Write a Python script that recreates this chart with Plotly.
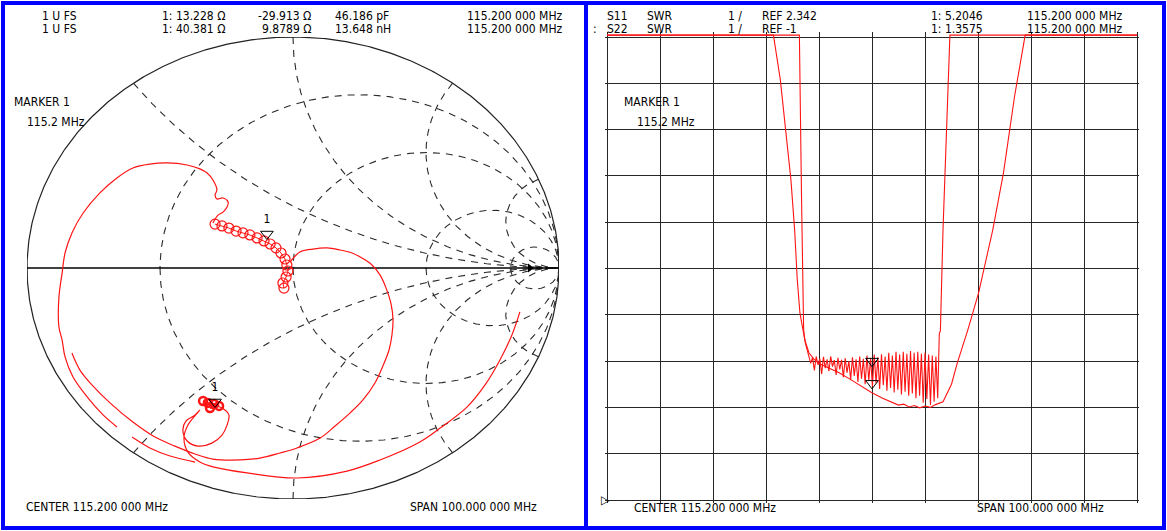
import numpy as np
import plotly.graph_objects as go

W, H = 1167, 531

# ---------------- Smith chart data (reflection coefficient, re / im) ----------------
s11_arc1_re = [-0.301, -0.282, -0.263, -0.248, -0.244, -0.263, -0.286, -0.293, -0.286, -0.301,
               -0.323, -0.350, -0.398, -0.474, -0.538, -0.602, -0.662, -0.726, -0.789, -0.831,
               -0.857, -0.868, -0.880, -0.880, -0.868, -0.857, -0.827, -0.774, -0.714, -0.662]
s11_arc1_im = [0.195, 0.229, 0.242, 0.264, 0.286, 0.303, 0.299, 0.316, 0.338, 0.381,
               0.411, 0.429, 0.446, 0.455, 0.450, 0.433, 0.390, 0.325, 0.238, 0.152,
               0.065, -0.022, -0.126, -0.255, -0.312, -0.385, -0.472, -0.558, -0.636, -0.688]

s11_arc2_re = [-0.011, 0.026, 0.075, 0.128, 0.177, 0.222, 0.259, 0.297, 0.327, 0.350,
               0.368, 0.376, 0.372, 0.361, 0.338, 0.308, 0.263, 0.214, 0.158, 0.102,
               0.015, -0.049, -0.124, -0.199, -0.301, -0.368, -0.444, -0.519, -0.602, -0.688,
               -0.756, -0.801, -0.831]
s11_arc2_im = [0.026, 0.069, 0.082, 0.087, 0.078, 0.065, 0.043, 0.013, -0.030, -0.087,
               -0.152, -0.225, -0.290, -0.355, -0.424, -0.498, -0.571, -0.628, -0.684, -0.736,
               -0.779, -0.801, -0.823, -0.831, -0.827, -0.805, -0.771, -0.732, -0.667, -0.584,
               -0.506, -0.442, -0.368]

s11_curl_re = [-0.293, -0.267, -0.241, -0.214, -0.188, -0.162, -0.135, -0.109, -0.086, -0.064,
               -0.045, -0.030, -0.023, -0.019, -0.026, -0.038, -0.034]
s11_curl_im = [0.190, 0.182, 0.173, 0.160, 0.152, 0.143, 0.130, 0.117, 0.104, 0.087,
               0.065, 0.039, 0.013, -0.013, -0.039, -0.065, -0.087]

s22_arc_re = [-0.305, -0.267, -0.241, -0.248, -0.267, -0.305, -0.357, -0.398, -0.414, -0.402,
              -0.368, -0.350, -0.395, -0.410, -0.395, -0.350, -0.301, -0.173, 0.015, 0.203,
              0.327, 0.477, 0.553, 0.654, 0.722, 0.778, 0.823, 0.853]
s22_arc_im = [-0.593, -0.606, -0.636, -0.680, -0.723, -0.758, -0.771, -0.749, -0.701, -0.662,
              -0.636, -0.615, -0.680, -0.736, -0.797, -0.840, -0.861, -0.887, -0.909, -0.879,
              -0.831, -0.753, -0.693, -0.602, -0.506, -0.398, -0.290, -0.190]
s22_tail_re = [-0.605, -0.538, -0.462, -0.368]
s22_tail_im = [-0.732, -0.779, -0.814, -0.840]
s22_curl_re = [-0.338, -0.320, -0.297, -0.278, -0.312]
s22_curl_im = [-0.576, -0.584, -0.589, -0.597, -0.606]

smith_marker_re = [-0.098, -0.293]
smith_marker_im = [0.147, -0.580]

# Smith grid values
grid_r = [1 / 3, 1, 3, 10]
grid_x = [0.5, 1, 2, 5]

# ---------------- SWR data (frequency MHz, display divisions) ----------------
s11_f = [65.2, 96.6, 97.9, 98.9, 99.9, 100.6, 101.1, 101.6, 102.5, 103.3, 104.2, 105.2, 107.2,
         109.0, 111.2, 113.2, 115.1, 117.2, 119.2, 120.2, 121.2, 122.2, 123.2, 124.2, 125.2,
         126.2, 127.2, 128.6, 130.2, 131.3, 133.3, 135.3, 138.0, 140.0, 142.1, 144.1, 165.2]
s11_div = [10.04, 10.04, 9.08, 8.0, 6.92, 5.84, 4.76, 4.04, 3.47, 3.18, 3.05, 2.95, 2.85,
           2.75, 2.60, 2.45, 2.32, 2.20, 2.10, 2.05, 2.07, 2.01, 2.04, 1.99, 2.03,
           2.00, 2.06, 2.12, 2.50, 2.96, 3.68, 4.47, 5.84, 7.06, 8.72, 10.04, 10.04]

s22_left_f = [65.2, 101.5, 101.9, 102.3, 102.6, 103.0]
s22_left_div = [10.04, 10.04, 6.56, 3.68, 3.40, 3.20]
s22_band_start, s22_band_stop = 103.3, 127.6
s22_band_div = [3.12, 2.95, 3.08, 2.80, 3.10, 2.92, 3.05, 2.72, 3.09, 2.85, 3.04, 2.78,
                3.10, 2.88, 3.02, 2.70, 3.07, 2.82, 3.03, 2.65, 3.06, 2.75, 3.00, 2.60,
                3.08, 2.68, 3.04, 2.55, 3.10, 2.62, 3.05, 2.50, 3.12, 2.58, 3.06, 2.45,
                3.14, 2.52, 3.08, 2.40, 3.15, 2.48, 3.10, 2.36, 3.18, 2.42, 3.12, 2.32,
                3.20, 2.38, 3.14, 2.28, 3.20, 2.34, 3.16, 2.25, 3.22, 2.30, 3.18, 2.20,
                3.20, 2.25, 3.16, 2.10, 3.18, 2.18, 3.14, 2.05, 3.12, 2.12, 3.10, 2.20]
s22_right_f = [127.9, 128.1, 128.6, 129.3, 129.9, 165.2]
s22_right_div = [3.60, 3.65, 5.84, 8.0, 10.04, 10.04]

marker_f = [115.2, 115.2]
marker_div = [3.0, 2.52]

# ---------------- layout geometry (pixels) ----------------
SM_L, SM_R, SM_T, SM_B = 27, 559, 37, 499
GR_L, GR_R, GR_T, GR_B = 607, 1137, 37, 500
F0, F1 = 65.2, 165.2
XPAD, YPAD_B, YPAD_T = 0.3, 0.06, 0.1

RED = "#ff1414"
DASH = "7px,6px"
FONT = "Liberation Sans Narrow, Arial Narrow, DejaVu Sans Condensed, Liberation Sans, sans-serif"


def pxx(x):
    return x / W


def pxy(y):
    return 1 - y / H


fig = go.Figure()

# ----- Smith chart grid -----
th = np.linspace(0, 2 * np.pi, 721)
for r in grid_r:
    c, rad = r / (1 + r), 1 / (1 + r)
    fig.add_trace(go.Scatter(x=c + rad * np.cos(th + np.pi), y=rad * np.sin(th + np.pi),
                             mode="lines", line=dict(color="#2a2a2a", width=1.1, dash=DASH),
                             xaxis="x", yaxis="y", hoverinfo="skip"))
t = np.concatenate([np.linspace(0, 2, 300), np.geomspace(2.01, 3000, 300)])
for xv in grid_x:
    for s in (1, -1):
        z = t + 1j * s * xv
        g = (z - 1) / (z + 1)
        fig.add_trace(go.Scatter(x=g.real, y=g.imag, mode="lines",
                                 line=dict(color="#2a2a2a", width=1.1, dash=DASH),
                                 xaxis="x", yaxis="y", hoverinfo="skip"))
fig.add_trace(go.Scatter(x=np.cos(th), y=np.sin(th), mode="lines",
                         line=dict(color="#222222", width=1.2), xaxis="x", yaxis="y", hoverinfo="skip"))
fig.add_trace(go.Scatter(x=[-1, 1], y=[0, 0], mode="lines",
                         line=dict(color="#000000", width=1.3), xaxis="x", yaxis="y", hoverinfo="skip"))
fig.add_trace(go.Scatter(x=[0.891], y=[0], mode="markers",
                         marker=dict(symbol="triangle-right", size=8, color="#000000"),
                         xaxis="x", yaxis="y", hoverinfo="skip"))

# ----- Smith traces -----
for xs, ys in [(s11_arc1_re, s11_arc1_im), (s11_arc2_re, s11_arc2_im),
               (s22_arc_re, s22_arc_im), (s22_tail_re, s22_tail_im)]:
    fig.add_trace(go.Scatter(x=xs, y=ys, mode="lines", line=dict(color=RED, width=1.2, shape="spline"),
                             xaxis="x", yaxis="y", hoverinfo="skip"))
fig.add_trace(go.Scatter(x=s11_curl_re, y=s11_curl_im, mode="lines+markers",
                         line=dict(color=RED, width=1),
                         marker=dict(symbol="circle-open", size=10, color=RED, line=dict(width=1.2)),
                         xaxis="x", yaxis="y", hoverinfo="skip"))
fig.add_trace(go.Scatter(x=s22_curl_re, y=s22_curl_im, mode="lines+markers",
                         line=dict(color=RED, width=2),
                         marker=dict(symbol="circle-open", size=8, color=RED, line=dict(width=2.5)),
                         xaxis="x", yaxis="y", hoverinfo="skip"))
fig.add_trace(go.Scatter(x=smith_marker_re, y=smith_marker_im, mode="markers+text",
                         marker=dict(symbol="triangle-down-open", size=11, color="#000000", line=dict(width=1)),
                         text=["1", "1"], textposition="top center",
                         textfont=dict(family=FONT, size=12, color="#000000"),
                         xaxis="x", yaxis="y", hoverinfo="skip", cliponaxis=False))

# ----- SWR traces -----
fig.add_trace(go.Scatter(x=s11_f, y=s11_div, mode="lines", line=dict(color=RED, width=1.1),
                         xaxis="x2", yaxis="y2", hoverinfo="skip"))
band_f = np.linspace(s22_band_start, s22_band_stop, len(s22_band_div))
fig.add_trace(go.Scatter(x=s22_left_f + list(band_f) + s22_right_f,
                         y=s22_left_div + s22_band_div + s22_right_div,
                         mode="lines", line=dict(color=RED, width=1.1),
                         xaxis="x2", yaxis="y2", hoverinfo="skip"))
fig.add_trace(go.Scatter(x=marker_f, y=marker_div, mode="markers",
                         marker=dict(symbol="triangle-down-open", size=11, color="#000000", line=dict(width=1)),
                         xaxis="x2", yaxis="y2", hoverinfo="skip"))

# ----- axes -----
ppm = (GR_R - GR_L) / (F1 - F0)
ppd = (GR_B - GR_T) / 10
x2_dom = [pxx(GR_L - XPAD * ppm), pxx(GR_R + XPAD * ppm)]
y2_dom = [pxy(GR_B + YPAD_B * ppd), pxy(GR_T - YPAD_T * ppd)]

fig.update_layout(
    width=W, height=H, margin=dict(l=0, r=0, t=0, b=0),
    paper_bgcolor="white", plot_bgcolor="white", showlegend=False,
    xaxis=dict(domain=[pxx(SM_L), pxx(SM_R)], range=[-1, 1], visible=False, fixedrange=True),
    yaxis=dict(domain=[pxy(SM_B), pxy(SM_T)], range=[-1, 1], visible=False, fixedrange=True),
    xaxis2=dict(domain=x2_dom, range=[F0 - XPAD, F1 + XPAD], anchor="y2",
                tick0=F0, dtick=10, showgrid=True, gridcolor="#262626", gridwidth=1.3,
                showticklabels=False, ticks="", zeroline=False, showline=False, fixedrange=True),
    yaxis2=dict(domain=y2_dom, range=[-YPAD_B, 10 + YPAD_T], anchor="x2",
                tick0=0, dtick=1, showgrid=True, gridcolor="#262626", gridwidth=1.3,
                showticklabels=False, ticks="", zeroline=False, showline=False, fixedrange=True),
)

# ----- blue panel frames -----
for x0, x1 in [(3, 586), (586, 1164)]:
    fig.add_shape(type="rect", xref="paper", yref="paper",
                  x0=pxx(x0), x1=pxx(x1), y0=pxy(528), y1=pxy(3),
                  line=dict(color="#0000ff", width=4))

# ----- texts -----
texts = [
    # left panel header
    (40, 16, "1 U FS"), (40, 29, "1 U FS"),
    (160, 16, "1: 13.228 Ω"), (256, 16, "-29.913 Ω"), (333, 16, "46.186 pF"),
    (160, 29, "1: 40.381 Ω"), (260, 29, "9.8789 Ω"), (333, 29, "13.648 nH"),
    (465, 16, "115.200 000 MHz"), (465, 29, "115.200 000 MHz"),
    (12, 102, "MARKER 1"), (25, 122, "115.2 MHz"),
    (24, 507, "CENTER 115.200 000 MHz"), (408, 507, "SPAN 100.000 000 MHz"),
    # right panel header
    (605, 16, "S11"), (645, 16, "SWR"), (726, 16, "1 /"), (760, 16, "REF 2.342"),
    (929, 16, "1: 5.2046"), (1025, 16, "115.200 000 MHz"),
    (591, 29, ":"), (605, 29, "S22"), (645, 29, "SWR"), (726, 29, "1 /"), (760, 29, "REF -1"),
    (929, 29, "1: 1.3575"), (1025, 29, "115.200 000 MHz"),
    (622, 102, "MARKER 1"), (635, 122, "115.2 MHz"),
    (632, 508, "CENTER 115.200 000 MHz"), (975, 508, "SPAN 100.000 000 MHz"),
    (599, 500, "▷"),
]
for x, y, s in texts:
    fig.add_annotation(x=pxx(x), y=pxy(y), xref="paper", yref="paper", text=s,
                       showarrow=False, xanchor="left", yanchor="middle",
                       font=dict(family=FONT, size=12, color="#000000"))

fig.write_html("out.html", config={"displayModeBar": False},
               post_script="document.body.style.margin='0';document.body.style.overflow='hidden';")
